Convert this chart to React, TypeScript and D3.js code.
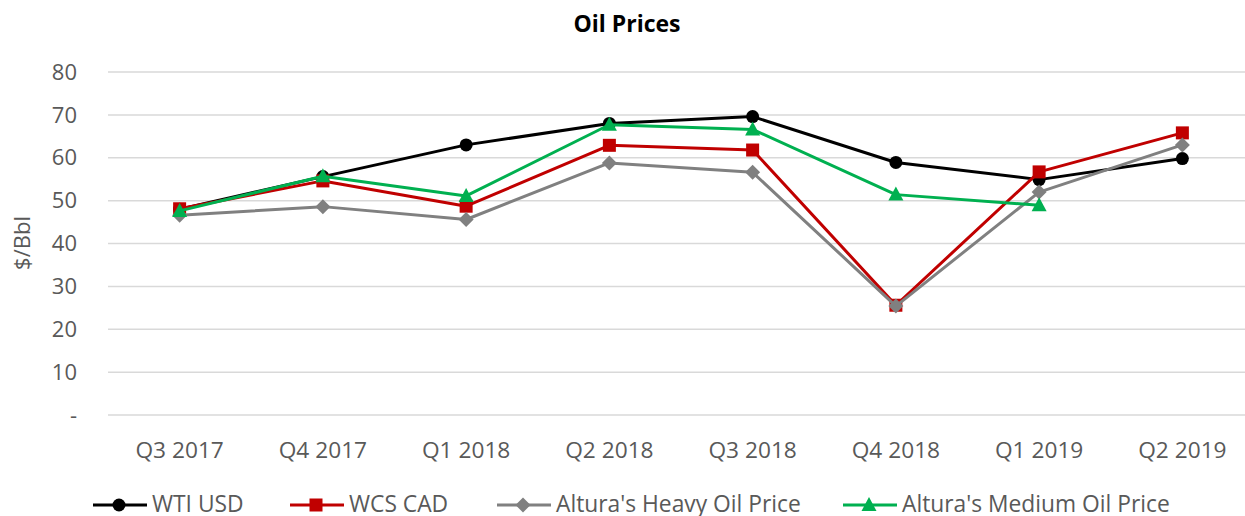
import React from "react";
import * as d3 from "d3";

const categories = ["Q3 2017", "Q4 2017", "Q1 2018", "Q2 2018", "Q3 2018", "Q4 2018", "Q1 2019", "Q2 2019"];
const wti: (number | null)[] = [48.0, 55.6, 63.0, 68.0, 69.6, 58.9, 54.9, 59.8];
const wcs: (number | null)[] = [48.1, 54.6, 48.7, 62.9, 61.8, 25.6, 56.7, 65.8];
const heavy: (number | null)[] = [46.6, 48.6, 45.6, 58.8, 56.6, 25.4, 52.0, 63.0];
const medium: (number | null)[] = [47.6, 55.7, 51.1, 67.7, 66.6, 51.4, 48.9, null];
const yTicks = [0, 10, 20, 30, 40, 50, 60, 70, 80];

const W = 1245, H = 516;
const FONT = "'Open Sans', 'Noto Sans', sans-serif";

const series = [
  { name: "WTI USD", values: wti, color: "#000000", marker: "circle" },
  { name: "WCS CAD", values: wcs, color: "#C00000", marker: "square" },
  { name: "Altura's Heavy Oil Price", values: heavy, color: "#808080", marker: "diamond" },
  { name: "Altura's Medium Oil Price", values: medium, color: "#00B050", marker: "triangle" },
];
const legendX = [93, 290, 497, 843];

function Marker({ type, x, y, color }: { type: string; x: number; y: number; color: string }) {
  if (type === "circle") return <circle cx={x} cy={y} r={6.5} fill={color} />;
  if (type === "square") return <rect x={x - 6.5} y={y - 6.5} width={13} height={13} fill={color} />;
  if (type === "diamond") return <path d={`M${x},${y - 7.5}L${x + 7.5},${y}L${x},${y + 7.5}L${x - 7.5},${y}Z`} fill={color} />;
  return <path d={`M${x},${y - 8}L${x + 7.5},${y + 6}L${x - 7.5},${y + 6}Z`} fill={color} />;
}

export default function App() {
  const x = d3.scaleBand<string>().domain(categories).range([108, 1254]);
  const y = d3.scaleLinear().domain([0, 80]).range([415, 72]);
  const cx = (c: string) => (x(c) as number) + x.bandwidth() / 2;
  const line = d3
    .line<{ c: string; v: number | null }>()
    .defined((d) => d.v !== null)
    .x((d) => cx(d.c))
    .y((d) => y(d.v as number));

  return (
    <svg width={W} height={H} style={{ position: "absolute", left: 0, top: 0, background: "#fff" }} fontFamily={FONT}>
      <text x={627} y={31.7} textAnchor="middle" fontWeight="bold" fontSize={23} fill="#000">Oil Prices</text>
      {yTicks.map((t) => (
        <g key={t}>
          <line x1={108} x2={1254} y1={y(t)} y2={y(t)} stroke="#d9d9d9" strokeWidth={1.5} />
          <text x={77} y={y(t)} dy="0.35em" textAnchor="end" fontSize={22} fill="#595959">{t === 0 ? "-" : t}</text>
        </g>
      ))}
      <text transform={`translate(30,243) rotate(-90)`} textAnchor="middle" fontSize={22} fill="#595959">$/Bbl</text>
      {categories.map((c) => (
        <text key={c} x={cx(c)} y={450} dy="0.36em" textAnchor="middle" fontSize={22.7} fill="#595959">{c}</text>
      ))}
      {series.map((s) => {
        const pts = categories.map((c, i) => ({ c, v: s.values[i] }));
        return (
          <g key={s.name}>
            <path d={line(pts) || ""} fill="none" stroke={s.color} strokeWidth={3} strokeLinejoin="round" />
            {pts.filter((p) => p.v !== null).map((p) => (
              <Marker key={p.c} type={s.marker} x={cx(p.c)} y={y(p.v as number)} color={s.color} />
            ))}
          </g>
        );
      })}
      {series.map((s, i) => (
        <g key={s.name}>
          <line x1={legendX[i]} x2={legendX[i] + 54} y1={505} y2={505} stroke={s.color} strokeWidth={3} />
          <Marker type={s.marker} x={legendX[i] + 26} y={505} color={s.color} />
          <text x={legendX[i] + 59} y={504} dy="0.36em" fontSize={22.8} fill="#595959">{s.name}</text>
        </g>
      ))}
    </svg>
  );
}
